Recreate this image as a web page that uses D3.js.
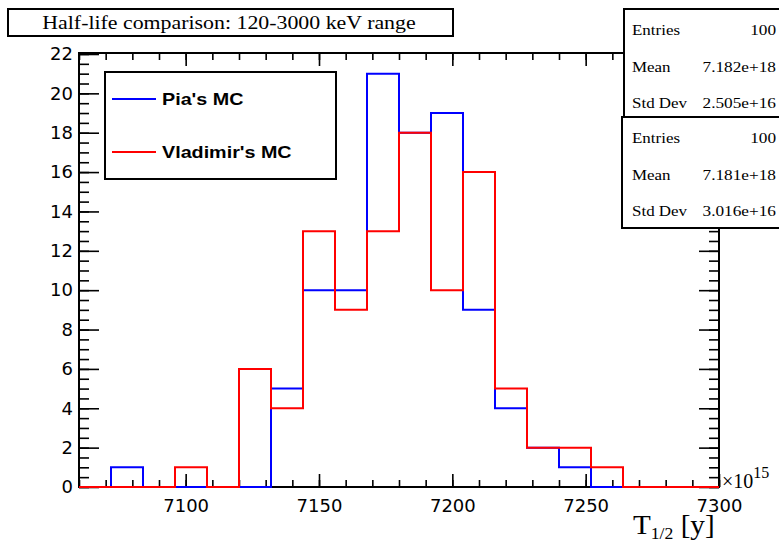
<!DOCTYPE html>
<html>
<head>
<meta charset="utf-8">
<script src="https://cdn.jsdelivr.net/npm/d3@7"></script>
<style>
  body { margin: 0; background: #fff; }
  svg { display: block; }
</style>
</head>
<body>
<svg id="chart" width="779" height="545"></svg>
<script>
// histogram bins (low edges, width 12), range 7060 - 7300 (x 1e15 y)
const binLow = [7060, 7072, 7084, 7096, 7108, 7120, 7132, 7144, 7156, 7168,
                7180, 7192, 7204, 7216, 7228, 7240, 7252, 7264, 7276, 7288];
const binWidth = 12;
const piaCounts  = [0, 1, 0, 0, 0, 0, 5, 10, 10, 21, 18, 19, 9, 4, 2, 1, 0, 0, 0, 0];
const vladCounts = [0, 0, 0, 1, 0, 6, 4, 13, 9, 13, 18, 10, 16, 5, 2, 2, 1, 0, 0, 0];

const xMajorTicks = [7100, 7150, 7200, 7250, 7300];
const yMajorTicks = [0, 2, 4, 6, 8, 10, 12, 14, 16, 18, 20, 22];

const titleText = "Half-life comparison: 120-3000 keV range";
const legendLabels = ["Pia's MC", "Vladimir's MC"];
const statsPia  = [["Entries", "100"], ["Mean", "7.182e+18"], ["Std Dev", "2.505e+16"]];
const statsVlad = [["Entries", "100"], ["Mean", "7.181e+18"], ["Std Dev", "3.016e+16"]];

const svg = d3.select("#chart");

// plot frame
const frameL = 79, frameR = 719, frameT = 53, frameB = 487;

const x = d3.scaleLinear().domain([7060, 7300]).range([frameL, frameR]);
const y = d3.scaleLinear().domain([0, 22.05]).range([frameB, frameT]);

const sans = "'DejaVu Sans', Verdana, sans-serif";
const serif = "'Liberation Serif', 'Times New Roman', serif";

// ROOT draws text a bit wider than the installed fonts
function stretch(sel, k) {
  sel.each(function() {
    const w = this.getComputedTextLength();
    this.setAttribute("textLength", w * k);
    this.setAttribute("lengthAdjust", "spacingAndGlyphs");
  });
}

// axes: ticks point inwards on all four sides
const xMinor = d3.range(7060, 7301, 10);
const yMinor = d3.range(0, 22.01, 0.5);

function styleAxis(g) {
  g.select(".domain").remove();
  g.selectAll(".tick line").attr("stroke", "#000").attr("stroke-width", 1.6);
}

svg.append("g").attr("transform", `translate(0,${frameB})`)
  .call(d3.axisBottom(x).tickValues(xMinor).tickSize(-7).tickFormat(""))
  .call(styleAxis);
const xAx = svg.append("g").attr("transform", `translate(0,${frameB})`)
  .call(d3.axisBottom(x).tickValues(xMajorTicks).tickSize(-13).tickPadding(12).tickFormat(d3.format("d")))
  .call(styleAxis);
xAx.selectAll("text").attr("font-family", sans).attr("font-size", 18).attr("fill", "#000");

svg.append("g").attr("transform", `translate(0,${frameT})`)
  .call(d3.axisTop(x).tickValues(xMinor).tickSize(-7).tickFormat(""))
  .call(styleAxis);
svg.append("g").attr("transform", `translate(0,${frameT})`)
  .call(d3.axisTop(x).tickValues(xMajorTicks).tickSize(-13).tickFormat(""))
  .call(styleAxis);

svg.append("g").attr("transform", `translate(${frameL},0)`)
  .call(d3.axisLeft(y).tickValues(yMinor).tickSize(-10).tickFormat(""))
  .call(styleAxis);
const yAx = svg.append("g").attr("transform", `translate(${frameL},0)`)
  .call(d3.axisLeft(y).tickValues(yMajorTicks).tickSize(-20).tickPadding(6))
  .call(styleAxis);
yAx.selectAll("text").attr("font-family", sans).attr("font-size", 18).attr("fill", "#000");

svg.append("g").attr("transform", `translate(${frameR},0)`)
  .call(d3.axisRight(y).tickValues(yMinor).tickSize(-10).tickFormat(""))
  .call(styleAxis);
svg.append("g").attr("transform", `translate(${frameR},0)`)
  .call(d3.axisRight(y).tickValues(yMajorTicks).tickSize(-20).tickFormat(""))
  .call(styleAxis);

svg.append("rect")
  .attr("x", frameL).attr("y", frameT)
  .attr("width", frameR - frameL).attr("height", frameB - frameT)
  .attr("fill", "none").attr("stroke", "#000").attr("stroke-width", 2);

// histograms as step outlines
function histPoints(counts) {
  const pts = binLow.map((e, i) => [e, counts[i]]);
  pts.push([binLow[binLow.length - 1] + binWidth, counts[counts.length - 1]]);
  return pts;
}
const step = d3.line().x(d => x(d[0])).y(d => y(d[1])).curve(d3.curveStepAfter);

svg.append("path").attr("d", step(histPoints(piaCounts)))
  .attr("fill", "none").attr("stroke", "#0000ff").attr("stroke-width", 2);
svg.append("path").attr("d", step(histPoints(vladCounts)))
  .attr("fill", "none").attr("stroke", "#ff0000").attr("stroke-width", 2);

// exponent and axis title
const expo = svg.append("text").attr("x", 722).attr("y", 488)
  .attr("font-family", serif).attr("font-size", 20).attr("fill", "#000");
expo.append("tspan").text("\u00d710");
expo.append("tspan").attr("dy", -10).attr("font-size", 16).text("15");

const xTitle = svg.append("text").attr("x", 633).attr("y", 534)
  .attr("font-family", serif).attr("font-size", 28).attr("fill", "#000");
xTitle.append("tspan").text("T");
xTitle.append("tspan").attr("dy", 5).attr("font-size", 17).text("1/2");
xTitle.append("tspan").attr("dy", -5).text(" [y]");
xTitle.call(stretch, 1.04);

// title box
svg.append("rect").attr("x", 8).attr("y", 9).attr("width", 445).attr("height", 27)
  .attr("fill", "#fff").attr("stroke", "#000").attr("stroke-width", 2);
svg.append("text").attr("x", 229).attr("y", 29).attr("text-anchor", "middle")
  .attr("font-family", serif).attr("font-size", 19).attr("font-weight", 500).attr("fill", "#000")
  .text(titleText).call(stretch, 1.15);

// legend
const legend = svg.append("g");
legend.append("rect").attr("x", 105).attr("y", 72).attr("width", 231).attr("height", 107)
  .attr("fill", "#fff").attr("stroke", "#000").attr("stroke-width", 2);
const legendColors = ["#0000ff", "#ff0000"];
const legendRows = legend.selectAll(".leg").data(legendLabels).enter().append("g")
  .attr("class", "leg")
  .attr("transform", (d, i) => `translate(0,${99 + i * 53})`);
legendRows.append("line").attr("x1", 112).attr("x2", 156).attr("y1", 0).attr("y2", 0)
  .attr("stroke", (d, i) => legendColors[i]).attr("stroke-width", 2);
legendRows.append("text").attr("x", 162).attr("y", 6)
  .attr("font-family", "'Liberation Sans', Arial, sans-serif").attr("font-weight", "bold")
  .attr("font-size", 17).attr("fill", "#000")
  .text(d => d).call(stretch, 1.16);

// stats boxes
function statsBox(rows, bx, by, h) {
  const g = svg.append("g");
  g.append("rect").attr("x", bx).attr("y", by).attr("width", 790 - bx).attr("height", h)
    .attr("fill", "#fff").attr("stroke", "#000").attr("stroke-width", 2);
  rows.forEach((r, i) => {
    const yy = by + 26 + i * 36.5;
    g.append("text").attr("x", 632).attr("y", yy)
      .attr("font-family", serif).attr("font-size", 15).attr("fill", "#000")
      .text(r[0]).call(stretch, 1.13);
    g.append("text").attr("x", 776).attr("y", yy).attr("text-anchor", "end")
      .attr("font-family", serif).attr("font-size", 15).attr("fill", "#000")
      .text(r[1]).call(stretch, 1.15);
  });
}
statsBox(statsPia, 624, 9, 108);
statsBox(statsVlad, 622, 117, 111);
</script>
</body>
</html>
